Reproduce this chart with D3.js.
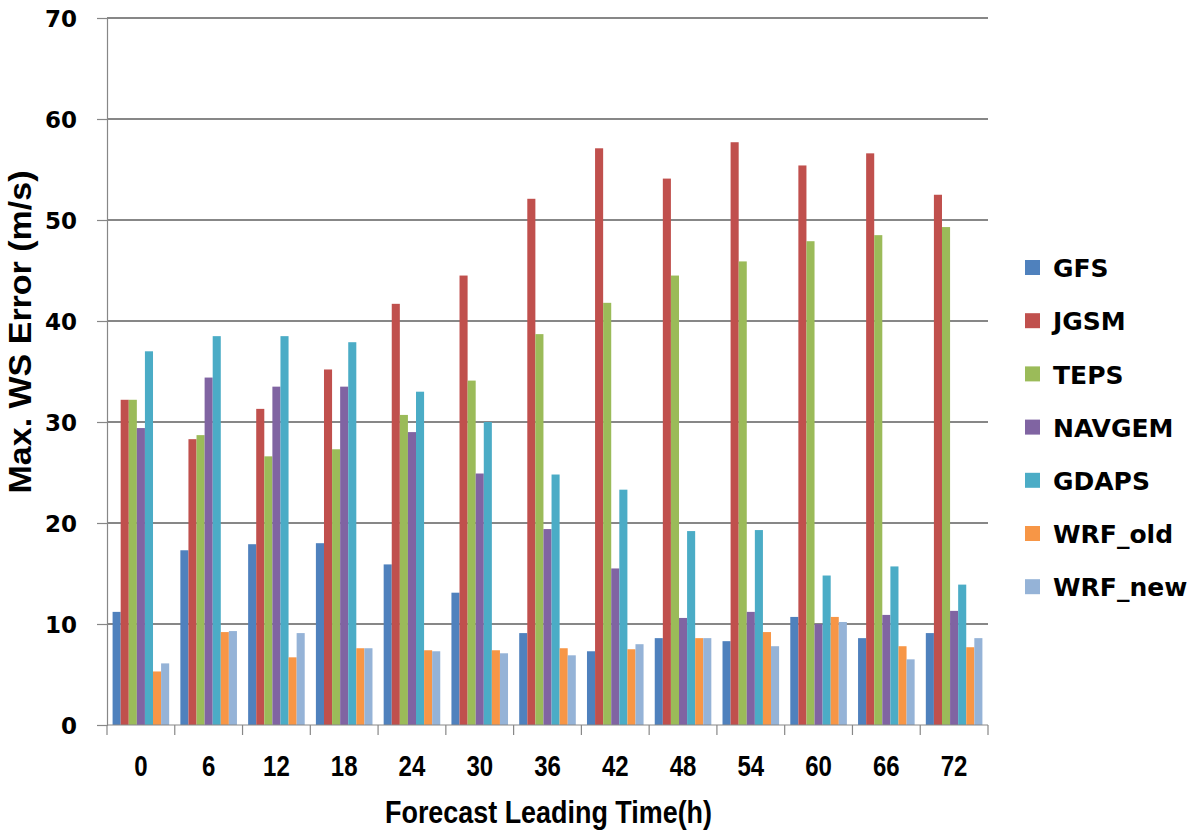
<!DOCTYPE html>
<html><head><meta charset="utf-8">
<script src="https://cdn.jsdelivr.net/npm/d3@7/dist/d3.min.js"></script>
<style>body{margin:0;background:#fff;} svg{display:block;}</style>
</head><body>
<svg id="c" width="1201" height="836"></svg>
<script>
const categories = ["0","6","12","18","24","30","36","42","48","54","60","66","72"];
const seriesNames = ["GFS","JGSM","TEPS","NAVGEM","GDAPS","WRF_old","WRF_new"];
const GFS     = [11.2,17.3,17.9,18.0,15.9,13.1,9.1,7.3,8.6,8.3,10.7,8.6,9.1];
const JGSM    = [32.2,28.3,31.3,35.2,41.7,44.5,52.1,57.1,54.1,57.7,55.4,56.6,52.5];
const TEPS    = [32.2,28.7,26.6,27.3,30.7,34.1,38.7,41.8,44.5,45.9,47.9,48.5,49.3];
const NAVGEM  = [29.4,34.4,33.5,33.5,29.0,24.9,19.4,15.5,10.6,11.2,10.0,10.9,11.3];
const GDAPS   = [37.0,38.5,38.5,37.9,33.0,30.0,24.8,23.3,19.2,19.3,14.8,15.7,13.9];
const WRF_old = [5.3,9.2,6.7,7.6,7.4,7.4,7.6,7.5,8.6,9.2,10.7,7.8,7.7];
const WRF_new = [6.1,9.3,9.1,7.6,7.3,7.1,6.9,8.0,8.6,7.8,10.2,6.5,8.6];
const yTicks = [0,10,20,30,40,50,60,70];
const colors = ["#4F81BD","#C0504D","#9BBB59","#8064A2","#4BACC6","#F79646","#95B3D7"];

const seriesValues = [GFS,JGSM,TEPS,NAVGEM,GDAPS,WRF_old,WRF_new];
const svg = d3.select("#c");
const L = 107, R = 988, T = 18, B = 725;
const condFont = "Liberation Sans, Arial, sans-serif";

const x = d3.scaleBand().domain(categories).range([L, R]).paddingInner(0.165).paddingOuter(0.0825);
const xs = d3.scaleBand().domain(seriesNames).range([0, x.bandwidth()]);
const y = d3.scaleLinear().domain([0, 70]).range([B, T]);
const gridColor = "#878787";

// gridlines
svg.append("g").selectAll("line").data(yTicks.filter(d => d > 0)).join("line")
  .attr("x1", L).attr("x2", R).attr("y1", d => y(d)).attr("y2", d => y(d))
  .attr("stroke", gridColor).attr("stroke-width", 1.2).attr("shape-rendering","crispEdges");

// bars
const data = [];
categories.forEach((c, i) => seriesNames.forEach((s, j) => data.push({c, s, v: seriesValues[j][i], j})));
svg.append("g").selectAll("rect").data(data).join("rect")
  .attr("x", d => x(d.c) + xs(d.s)).attr("width", xs.bandwidth())
  .attr("y", d => y(d.v)).attr("height", d => B - y(d.v))
  .attr("fill", d => colors[d.j]);

// y axis
const yAxis = d3.axisLeft(y).tickValues(yTicks).tickSize(10).tickPadding(20).tickFormat(d3.format("d"));
const gy = svg.append("g").attr("transform", `translate(${L},0)`).call(yAxis);
gy.select(".domain").attr("stroke", gridColor).attr("stroke-width", 1.2);
gy.selectAll(".tick line").attr("stroke", gridColor).attr("stroke-width", 1.2);
gy.selectAll(".tick text").attr("font-family", "DejaVu Sans").attr("font-weight", "bold")
  .attr("font-size", 23).attr("fill", "#000").attr("dy", "0.36em");

// x axis
const gx = svg.append("g").attr("transform", `translate(0,${B})`);
gx.append("line").attr("x1", L).attr("x2", R).attr("y1", 0).attr("y2", 0)
  .attr("stroke", gridColor).attr("stroke-width", 1.2);
const step = x.step();
const bounds = categories.map((c, i) => x(c) - x.paddingInner() * step / 2).concat([R]);
gx.selectAll("line.tk").data(bounds).join("line").attr("class","tk")
  .attr("x1", d => d).attr("x2", d => d).attr("y1", 0).attr("y2", 10)
  .attr("stroke", gridColor).attr("stroke-width", 1.2);
gx.selectAll("text").data(categories).join("text")
  .attr("transform", d => `translate(${x(d) + x.bandwidth() / 2},51) scale(0.8,1)`)
  .attr("text-anchor", "middle").attr("font-family", condFont)
  .attr("font-weight", "bold").attr("font-size", 30).text(d => d);

// axis titles
svg.append("text").attr("x", 548.5).attr("y", 823).attr("text-anchor", "middle")
  .attr("font-family", condFont).attr("font-weight", "bold")
  .attr("font-size", 31).attr("textLength", 327).attr("lengthAdjust", "spacingAndGlyphs")
  .text("Forecast Leading Time(h)");
svg.append("text").attr("transform", "translate(31,332) rotate(-90)").attr("text-anchor", "middle")
  .attr("font-family", condFont).attr("font-weight", "bold")
  .attr("font-size", 31).attr("textLength", 323).attr("lengthAdjust", "spacingAndGlyphs")
  .text("Max. WS Error (m/s)");

// legend
const lg = svg.append("g").selectAll("g").data(seriesNames).join("g")
  .attr("transform", (d, i) => `translate(1025,${268 + i * 53.2})`);
lg.append("rect").attr("x", 0).attr("y", -8).attr("width", 15).attr("height", 15)
  .attr("fill", (d, i) => colors[i]);
lg.append("text").attr("x", 28).attr("y", 0).attr("dy", "0.37em")
  .attr("font-family", "DejaVu Sans").attr("font-weight", "bold").attr("font-size", 25)
  .text(d => d);
</script>
</body></html>
